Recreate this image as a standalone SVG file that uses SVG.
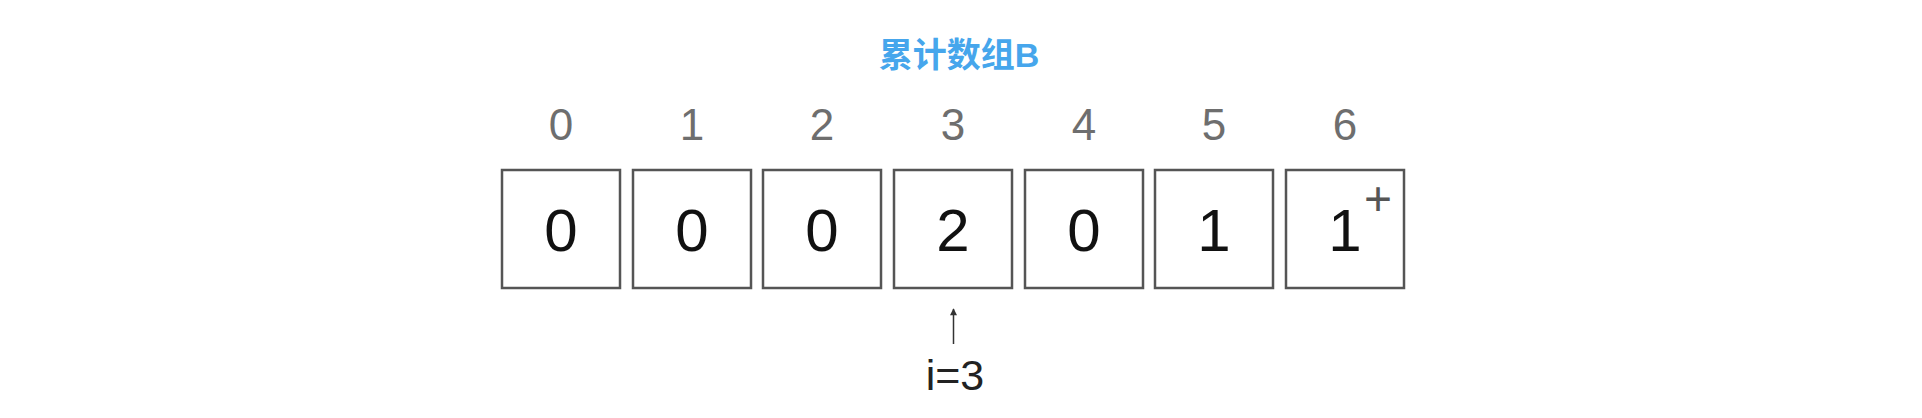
<svg xmlns="http://www.w3.org/2000/svg" width="1922" height="418" viewBox="0 0 1922 418">
<style>
.box{fill:#fff;stroke:#555;stroke-width:2.5}
.idx{font-family:"Liberation Sans",Arial,sans-serif;font-size:44px;fill:#6e6e6e;text-anchor:middle}
.val{font-family:"Liberation Sans",Arial,sans-serif;font-size:60px;fill:#111;text-anchor:middle}
.title{font-family:"Liberation Sans","Noto Sans CJK SC",sans-serif;font-size:34px;font-weight:bold;fill:#46a6ec;text-anchor:middle}
.lbl{font-family:"Liberation Sans",Arial,sans-serif;font-size:43px;fill:#222;text-anchor:middle}
</style>
<defs>
<marker id="ah" viewBox="0 0 10 10" refX="9" refY="5" markerWidth="8" markerHeight="7" markerUnits="userSpaceOnUse" orient="auto">
<path d="M0,0 L10,5 L0,10 Z" fill="#333"/>
</marker>
</defs>
<rect width="1922" height="418" fill="#fff"/>
<text id="title" class="title" x="959" y="67">累计数组B</text>
<g id="cell0"><text class="idx" x="561" y="140">0</text><rect class="box" x="502" y="170" width="118" height="118"/><text class="val" x="561" y="251">0</text></g>
<g id="cell1"><text class="idx" x="692" y="140">1</text><rect class="box" x="633" y="170" width="118" height="118"/><text class="val" x="692" y="251">0</text></g>
<g id="cell2"><text class="idx" x="822" y="140">2</text><rect class="box" x="763" y="170" width="118" height="118"/><text class="val" x="822" y="251">0</text></g>
<g id="cell3"><text class="idx" x="953" y="140">3</text><rect class="box" x="894" y="170" width="118" height="118"/><text class="val" x="953" y="251">2</text></g>
<g id="cell4"><text class="idx" x="1084" y="140">4</text><rect class="box" x="1025" y="170" width="118" height="118"/><text class="val" x="1084" y="251">0</text></g>
<g id="cell5"><text class="idx" x="1214" y="140">5</text><rect class="box" x="1155" y="170" width="118" height="118"/><text class="val" x="1214" y="251">1</text></g>
<g id="cell6"><text class="idx" x="1345" y="140">6</text><rect class="box" x="1286" y="170" width="118" height="118"/><text class="val" x="1345" y="251">1</text><text x="1378" y="215" font-family="Liberation Sans,Arial,sans-serif" font-size="48" fill="#555" text-anchor="middle">+</text></g>
<g id="connectors">
<line x1="953.5" y1="344" x2="953.5" y2="309" stroke="#333" stroke-width="1.5" marker-end="url(#ah)"/>
</g>
<g id="pointer"><text class="lbl" x="955" y="390">i=3</text></g>
</svg>
